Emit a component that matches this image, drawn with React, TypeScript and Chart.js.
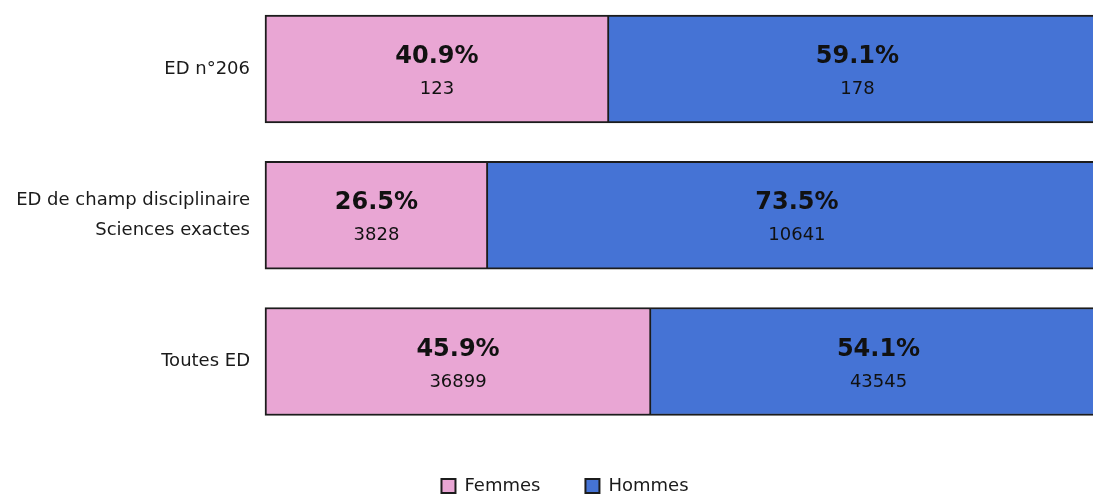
import React, { useEffect, useRef } from "react";
import { Chart, registerables } from "chart.js";

Chart.register(...registerables);

const categories: (string | string[])[] = [
  "ED n°206",
  ["ED de champ disciplinaire", "Sciences exactes"],
  "Toutes ED",
];
const seriesNames = ["Femmes", "Hommes"];
const femmesPct = [40.9, 26.5, 45.9];
const hommesPct = [59.1, 73.5, 54.1];
const femmesCount = [123, 3828, 36899];
const hommesCount = [178, 10641, 43545];

const PINK = "#E9A6D4";
const BLUE = "#4573D5";
const BORDER = "#1c1c1c";
const FONT = "'DejaVu Sans', Verdana, sans-serif";

const counts = [femmesCount, hommesCount];

const barLabels = {
  id: "barLabels",
  afterDatasetsDraw(chart: any) {
    const ctx = chart.ctx;
    ctx.save();
    ctx.textAlign = "center";
    ctx.textBaseline = "alphabetic";
    ctx.fillStyle = "#111";
    chart.data.datasets.forEach((ds: any, di: number) => {
      const meta = chart.getDatasetMeta(di);
      meta.data.forEach((bar: any, i: number) => {
        const cx = (bar.x + bar.base) / 2;
        const cy = bar.y;
        ctx.font = `bold 24px ${FONT}`;
        ctx.fillText(ds.data[i].toFixed(1) + "%", cx, cy - 6);
        ctx.font = `18px ${FONT}`;
        ctx.fillText(String(counts[di][i]), cx, cy + 25);
      });
    });
    ctx.restore();
  },
};

export default function App() {
  const ref = useRef<HTMLCanvasElement>(null);
  useEffect(() => {
    if (!ref.current) return;
    const chart = new Chart(ref.current, {
      type: "bar",
      data: {
        labels: categories,
        datasets: [
          {
            label: seriesNames[0],
            data: femmesPct,
            backgroundColor: PINK,
            borderColor: BORDER,
            borderWidth: 2,
            borderSkipped: false,
            barThickness: 108,
            clip: false,
          },
          {
            label: seriesNames[1],
            data: hommesPct,
            backgroundColor: BLUE,
            borderColor: BORDER,
            borderWidth: 2,
            borderSkipped: "left",
            barThickness: 108,
            clip: false,
          },
        ] as any,
      },
      options: {
        indexAxis: "y",
        responsive: false,
        animation: false,
        layout: { padding: { top: 69, left: 0, right: 0, bottom: 0 } },
        scales: {
          x: {
            stacked: true,
            min: 0,
            max: 100,
            display: true,
            grid: { display: false, drawTicks: false },
            border: { display: false },
            ticks: { display: false },
            afterFit: (s: any) => {
              s.height = 70.5;
            },
          },
          y: {
            stacked: true,
            offset: false,
            grid: { display: false, drawTicks: false },
            border: { display: false },
            ticks: {
              padding: 15,
              color: "#1a1a1a",
              font: { family: FONT, size: 18, lineHeight: 30 / 18 },
            },
            afterFit: (s: any) => {
              s.width = 265;
            },
          },
          yRight: {
            type: "category",
            position: "right",
            offset: false,
            display: true,
            grid: { display: false, drawTicks: false },
            border: { display: false },
            ticks: { display: false },
            afterFit: (s: any) => {
              s.width = 24;
            },
          },
        },
        plugins: {
          legend: {
            position: "bottom",
            labels: {
              boxWidth: 14,
              boxHeight: 14,
              padding: 45,
              color: "#1a1a1a",
              font: { family: FONT, size: 18 },
            },
          },
          tooltip: { enabled: false },
        },
      } as any,
      plugins: [barLabels],
    });
    return () => chart.destroy();
  }, []);
  return (
    <div
      style={{
        position: "fixed",
        left: 0,
        top: 0,
        width: 1093,
        height: 495,
        overflow: "hidden",
        background: "#fff",
      }}
    >
      <canvas ref={ref} width={1130} height={505} style={{ display: "block" }} />
    </div>
  );
}
